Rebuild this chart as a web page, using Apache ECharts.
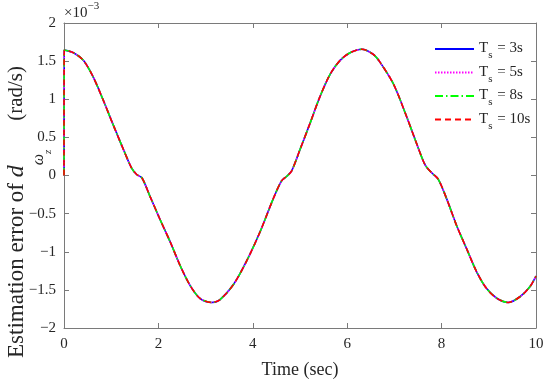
<!DOCTYPE html>
<html><head><meta charset="utf-8">
<script src="https://cdn.jsdelivr.net/npm/echarts@6/dist/echarts.min.js"></script>
<style>html,body{margin:0;padding:0;background:#fff}#c{width:550px;height:384px}</style>
</head><body><div id="c"></div>
<script>
// Time samples (sec)
const timeSec = [0, 0.005, 0.2, 0.41, 0.62, 0.83, 1.045, 1.26, 1.43, 1.54, 1.65, 1.82, 2.03, 2.25, 2.46, 2.67, 2.88, 3.13, 3.3, 3.59, 3.87, 4.15, 4.43, 4.61, 4.72, 4.82, 5.0, 5.21, 5.42, 5.64, 5.85, 6.06, 6.31, 6.55, 6.69, 6.98, 7.26, 7.47, 7.65, 7.79, 7.93, 8.11, 8.32, 8.53, 8.74, 8.95, 9.17, 9.41, 9.66, 9.87, 10.0];
// Estimation error (x 1e-3 rad/s), identical for all Ts curves
const errE3 = [0, 1.645, 1.61, 1.51, 1.29, 0.99, 0.66, 0.34, 0.10, 0.013, -0.03, -0.27, -0.57, -0.87, -1.18, -1.44, -1.61, -1.665, -1.63, -1.43, -1.12, -0.745, -0.31, -0.07, -0.01, 0.056, 0.34, 0.68, 1.03, 1.33, 1.51, 1.61, 1.655, 1.59, 1.49, 1.20, 0.77, 0.42, 0.14, 0.035, -0.05, -0.31, -0.66, -0.96, -1.26, -1.48, -1.61, -1.665, -1.59, -1.46, -1.32];
const seriesNames = ['Ts = 3s', 'Ts = 5s', 'Ts = 8s', 'Ts = 10s'];
const xTicks = [0, 2, 4, 6, 8, 10];
const yTicks = [-2, -1.5, -1, -0.5, 0, 0.5, 1, 1.5, 2];

const styles = [
  {color: '#0000ff', type: 'solid'},
  {color: '#ff00ff', type: [1.5, 1.5]},
  {color: '#00ff00', type: [8, 3, 1.5, 3]},
  {color: '#ff0000', type: [6, 4]}
];
const FONT = '"Liberation Serif", "Times New Roman", serif';
const AX = '#7a7a7a';
const TXT = '#262626';

const pts = timeSec.map((t, i) => [t, errE3[i]]);
const fmtY = v => (v < 0 ? '\u2212' : '') + Math.abs(v);

function axisBase(show) {
  return {
    axisLine: {show: true, onZero: false, lineStyle: {color: AX, width: 1}},
    axisTick: {show: true, inside: true, length: 5, lineStyle: {color: AX}},
    splitLine: {show: false},
    axisLabel: {show: show, color: TXT, fontFamily: FONT, fontSize: 15}
  };
}

const chart = echarts.init(document.getElementById('c'), null, {renderer: 'canvas'});
chart.setOption({
  animation: false,
  backgroundColor: '#fff',
  grid: {left: 64, right: 14, top: 23, bottom: 53, containLabel: false},
  xAxis: [
    Object.assign(axisBase(true), {type: 'value', min: xTicks[0], max: xTicks[xTicks.length - 1], interval: 2, position: 'bottom',
      name: 'Time (sec)', nameLocation: 'middle', nameGap: 33, nameTextStyle: {color: TXT, fontFamily: FONT, fontSize: 18},
      axisLabel: {show: true, color: TXT, fontFamily: FONT, fontSize: 15, margin: 9}}),
    Object.assign(axisBase(false), {type: 'value', min: 0, max: 10, interval: 2, position: 'top'})
  ],
  yAxis: [
    Object.assign(axisBase(true), {type: 'value', min: yTicks[0], max: yTicks[yTicks.length - 1], interval: 0.5, position: 'left',
      axisLabel: {show: true, color: TXT, fontFamily: FONT, fontSize: 15, margin: 8, formatter: fmtY}}),
    Object.assign(axisBase(false), {type: 'value', min: -2, max: 2, interval: 0.5, position: 'right'})
  ],
  legend: {
    orient: 'vertical', left: 429, top: 36, itemWidth: 39, itemHeight: 14, itemGap: 3.5,
    data: seriesNames,
    itemStyle: {opacity: 0},
    formatter: name => '{t|T}{s|s}{t|' + name.slice(2) + '}',
    textStyle: {
      color: TXT, fontFamily: FONT, fontSize: 15,
      rich: {
        t: {fontFamily: FONT, fontSize: 15, lineHeight: 16, verticalAlign: 'top', color: TXT},
        s: {fontFamily: FONT, fontSize: 11, lineHeight: 11, padding: [9, 1, 0, 0], verticalAlign: 'top', color: TXT}
      }
    }
  },
  series: seriesNames.map((n, i) => ({
    name: n, type: 'line', data: pts, symbol: 'none', smooth: 0.3,
    lineStyle: {color: styles[i].color, type: styles[i].type, width: 1.6},
    itemStyle: {color: styles[i].color},
    z: 2 + i
  })),
  graphic: [
    {type: 'text', left: 64, top: 1, style: {
      text: '{a|\u00d710}{b|\u22123}',
      rich: {
        a: {fontFamily: FONT, fontSize: 15, fill: TXT, padding: [5, 0, 0, 0], verticalAlign: 'top', lineHeight: 15},
        b: {fontFamily: FONT, fontSize: 11, fill: TXT, verticalAlign: 'top', lineHeight: 11}
      }
    }},
    {type: 'text', x: 5, y: 358, rotation: Math.PI / 2, style: {
      text: '{n|Estimation error of }{d|d}{w|\u03c9}{z|z}',
      textAlign: 'left', textVerticalAlign: 'top',
      rich: {
        n: {fontFamily: FONT, fontSize: 23, fill: TXT, lineHeight: 23, verticalAlign: 'top'},
        d: {fontFamily: FONT, fontSize: 24, fontStyle: 'italic', fill: TXT, lineHeight: 23, verticalAlign: 'top'},
        w: {fontFamily: FONT, fontSize: 16, fontStyle: 'italic', fill: TXT, lineHeight: 16, padding: [26, 0, 0, 0], verticalAlign: 'top'},
        z: {fontFamily: FONT, fontSize: 11, fontStyle: 'italic', fill: TXT, lineHeight: 11, padding: [38, 0, 0, 0], verticalAlign: 'top'}
      }
    }},
    {type: 'text', x: 6, y: 66, rotation: Math.PI / 2, style: {
      text: '(rad/s)', textAlign: 'right', textVerticalAlign: 'top',
      font: '21px "Liberation Serif", serif', fill: TXT
    }}
  ]
});
</script>
</body></html>
